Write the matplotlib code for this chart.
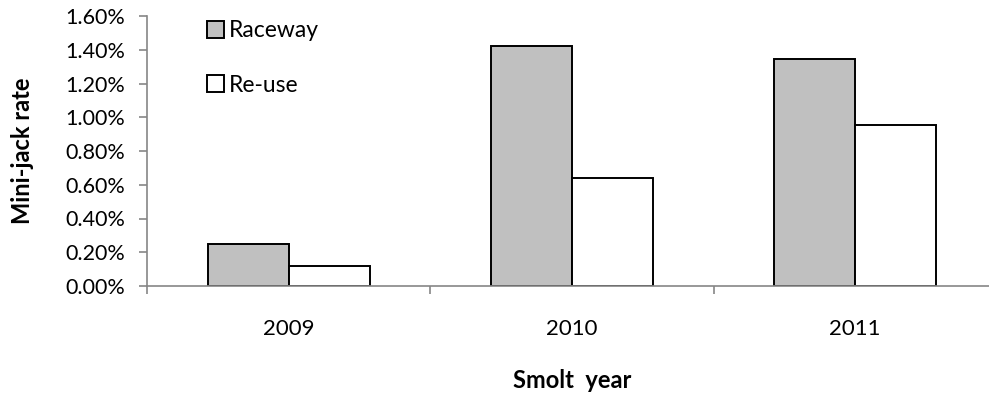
import matplotlib
matplotlib.use("Agg")
import matplotlib.pyplot as plt
import numpy as np
from matplotlib.ticker import FuncFormatter, FixedLocator

plt.rcParams['font.family'] = ['Lato', 'DejaVu Sans']

years = ["2009", "2010", "2011"]
raceway = [0.25, 1.42, 1.345]
reuse = [0.12, 0.64, 0.955]
yticks = [0.0, 0.2, 0.4, 0.6, 0.8, 1.0, 1.2, 1.4, 1.6]

fig = plt.figure(figsize=(9.89, 3.98), dpi=100)
ax = fig.add_axes([147/989, (398-286)/398, 1 - 147/989, 270/398])

x = np.arange(len(years))
w = 0.286
ax.bar(x - w/2, raceway, width=w, color='#C0C0C0', edgecolor='black', linewidth=1.4, label='Raceway')
ax.bar(x + w/2, reuse, width=w, color='white', edgecolor='black', linewidth=1.4, label='Re-use')

ax.set_ylim(0, 1.6)
ax.set_xlim(-0.5, (989-147)/283.3 - 0.5)
ax.set_yticks(yticks)
ax.yaxis.set_major_formatter(FuncFormatter(lambda v, p: f"{v:.2f}%"))

ax.set_xticks(x)
ax.set_xticklabels(years)
ax.tick_params(axis='x', which='major', length=0, pad=24, labelsize=16)
ax.xaxis.set_minor_locator(FixedLocator([-0.5, 0.5, 1.5, 2.5]))
ax.tick_params(axis='x', which='minor', length=6, color='#868686', width=1.2)
ax.tick_params(axis='y', length=6, color='#868686', width=1.2, pad=10, labelsize=15.5)

for s in ['top', 'right']:
    ax.spines[s].set_visible(False)
for s in ['left', 'bottom']:
    ax.spines[s].set_color('#868686')
    ax.spines[s].set_linewidth(1.2)

ax.set_ylabel('Mini-jack rate', fontsize=17, fontweight='bold')
ax.yaxis.set_label_coords(-113/842, 0.5)
ax.set_xlabel('Smolt  year', fontsize=17, fontweight='bold')
ax.xaxis.set_label_coords((572-147)/842, -(381-286)/270)
ax.xaxis.label.set_verticalalignment('center')

leg = ax.legend(loc='upper left', bbox_to_anchor=((186-147)/842, 1.06), frameon=False,
                fontsize=16.5, handlelength=0.75, handleheight=0.75, handletextpad=0.2,
                labelspacing=1.45)

fig.savefig('out.png', dpi=100)
